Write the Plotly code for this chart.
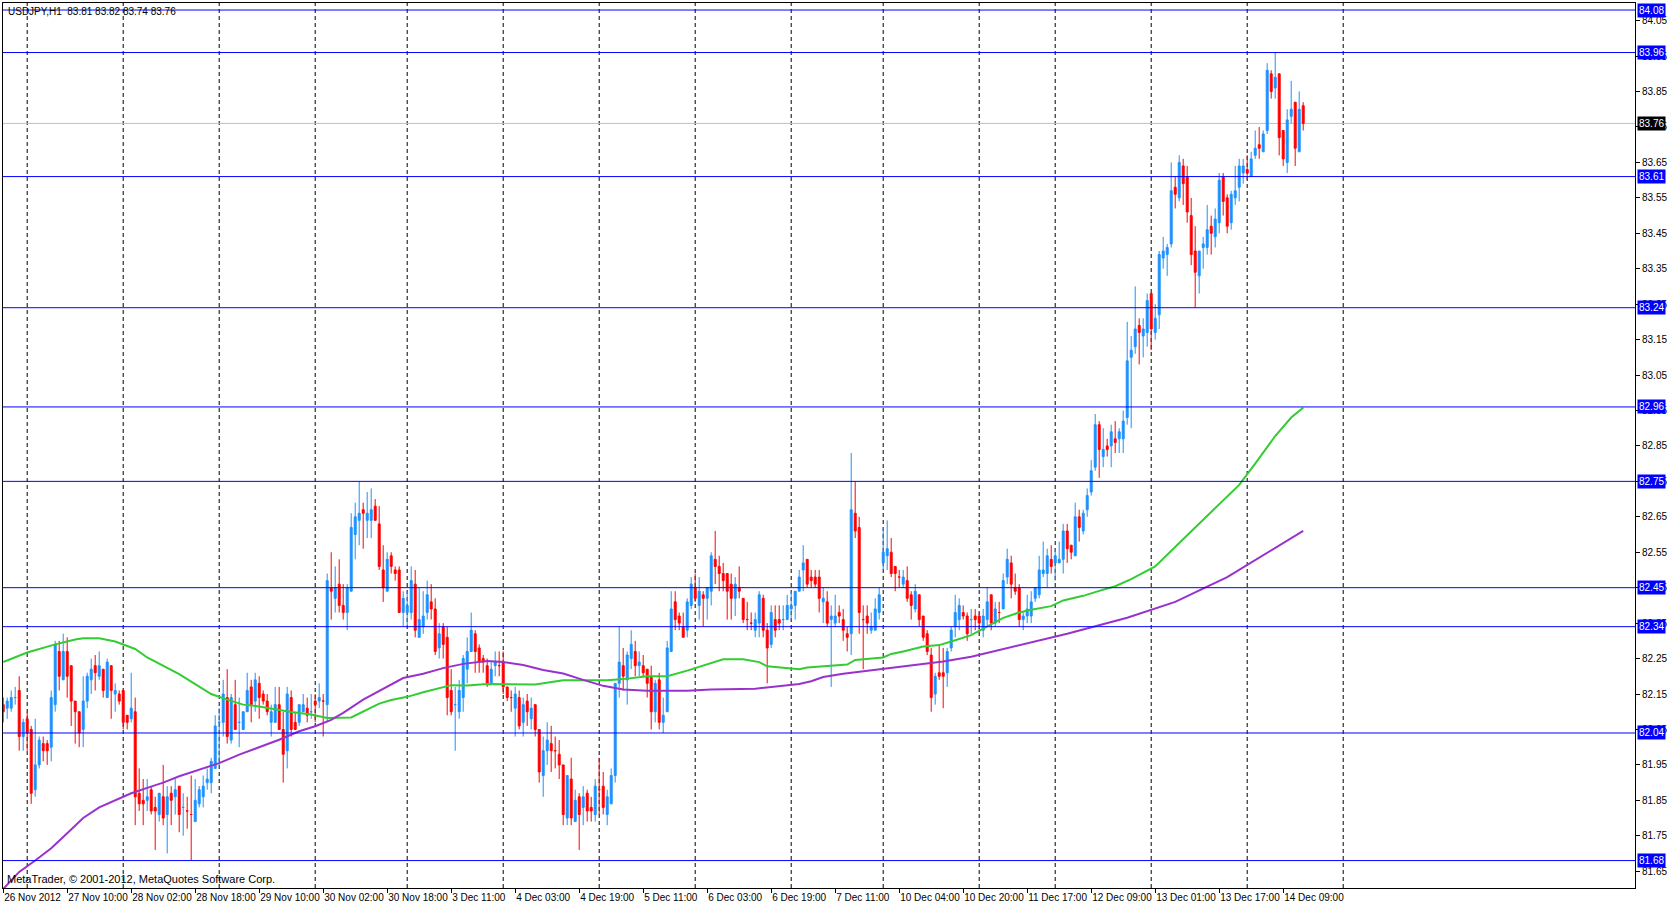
import plotly.graph_objects as go

# USDJPY H1, 26 Nov 2012 18:00 .. 14 Dec 2012 14:00 (326 bars)
opens = [
    82.12, 82.11, 82.11, 82.14, 82.16, 82.03, 82.08, 82.05, 81.88, 81.95,
    82.01, 82.01, 82.00, 82.12, 82.27, 82.19, 82.27, 82.23, 82.13, 82.10,
    82.05, 82.13, 82.19, 82.23, 82.20, 82.22, 82.14, 82.23, 82.15, 82.15,
    82.16, 82.09, 82.08, 82.10, 81.87, 81.85, 81.85, 81.88, 81.83, 81.81,
    81.86, 81.81, 81.87, 81.86, 81.89, 81.83, 81.82, 81.81, 81.79, 81.84,
    81.86, 81.90, 81.90, 81.94, 82.07, 82.07, 82.14, 82.02, 82.12, 82.07,
    82.05, 82.10, 82.17, 82.13, 82.18, 82.15, 82.13, 82.07, 82.07, 82.12,
    82.05, 81.99, 82.14, 82.07, 82.07, 82.10, 82.11, 82.10, 82.13, 82.13,
    82.13, 82.12, 82.45, 82.42, 82.46, 82.40, 82.38, 82.44, 82.60, 82.64,
    82.67, 82.64, 82.64, 82.68, 82.63, 82.50, 82.44, 82.54, 82.50, 82.50,
    82.38, 82.38, 82.38, 82.46, 82.31, 82.34, 82.38, 82.41, 82.39, 82.28,
    82.34, 82.31, 82.16, 82.12, 82.10, 82.14, 82.22, 82.27, 82.32, 82.28,
    82.25, 82.23, 82.18, 82.23, 82.23, 82.24, 82.17, 82.14, 82.11, 82.14,
    82.07, 82.13, 82.08, 82.12, 82.05, 81.92, 81.99, 82.01, 81.99, 81.98,
    81.95, 81.80, 81.91, 81.79, 81.86, 81.83, 81.87, 81.83, 81.81, 81.88,
    81.89, 81.81, 81.84, 81.92, 82.18, 82.23, 82.19, 82.25, 82.27, 82.23,
    82.23, 82.22, 82.20, 82.10, 82.19, 82.07, 82.10, 82.27, 82.41, 82.37,
    82.34, 82.33, 82.40, 82.45, 82.40, 82.43, 82.42, 82.44, 82.53, 82.51,
    82.49, 82.49, 82.46, 82.42, 82.45, 82.42, 82.36, 82.35, 82.33, 82.35,
    82.42, 82.33, 82.29, 82.36, 82.36, 82.36, 82.36, 82.39, 82.40, 82.44,
    82.50, 82.53, 82.48, 82.48, 82.48, 82.41, 82.41, 82.36, 82.35, 82.38,
    82.36, 82.32, 82.32, 82.66, 82.62, 82.36, 82.37, 82.33, 82.33, 82.38,
    82.52, 82.54, 82.55, 82.51, 82.48, 82.46, 82.47, 82.43, 82.39, 82.43,
    82.37, 82.32, 82.26, 82.15, 82.21, 82.21, 82.21, 82.28, 82.34, 82.36,
    82.38, 82.37, 82.36, 82.37, 82.37, 82.33, 82.36, 82.43, 82.35, 82.38,
    82.39, 82.48, 82.52, 82.45, 82.45, 82.36, 82.37, 82.37, 82.42, 82.43,
    82.49, 82.49, 82.53, 82.52, 82.52, 82.53, 82.61, 82.57, 82.54, 82.65,
    82.61, 82.67, 82.72, 82.79, 82.91, 82.82, 82.85, 82.85, 82.87, 82.87,
    82.87, 82.93, 83.10, 83.13, 83.19, 83.16, 83.17, 83.28, 83.17, 83.22,
    83.38, 83.39, 83.42, 83.58, 83.55, 83.64, 83.61, 83.50, 83.40, 83.33,
    83.41, 83.41, 83.47, 83.44, 83.48, 83.61, 83.55, 83.48, 83.55, 83.58,
    83.62, 83.63, 83.61, 83.67, 83.70, 83.68, 83.74, 83.90, 83.86, 83.90,
    83.74, 83.65, 83.78, 83.82, 83.68, 83.81,
]
highs = [
    82.14, 82.14, 82.16, 82.17, 82.20, 82.08, 82.10, 82.06, 82.08, 82.03,
    82.03, 82.02, 82.16, 82.30, 82.30, 82.32, 82.31, 82.23, 82.13, 82.10,
    82.20, 82.21, 82.25, 82.26, 82.27, 82.22, 82.25, 82.23, 82.18, 82.16,
    82.16, 82.09, 82.21, 82.14, 81.94, 81.91, 81.91, 81.89, 81.86, 81.87,
    81.95, 81.89, 81.89, 81.91, 81.89, 81.87, 81.86, 81.92, 81.91, 81.89,
    81.92, 81.94, 81.97, 82.09, 82.11, 82.19, 82.22, 82.15, 82.19, 82.14,
    82.10, 82.21, 82.19, 82.21, 82.20, 82.16, 82.15, 82.12, 82.17, 82.17,
    82.10, 82.17, 82.16, 82.10, 82.12, 82.15, 82.14, 82.15, 82.15, 82.18,
    82.15, 82.49, 82.55, 82.51, 82.53, 82.46, 82.46, 82.66, 82.69, 82.75,
    82.69, 82.72, 82.73, 82.70, 82.68, 82.57, 82.55, 82.55, 82.51, 82.51,
    82.44, 82.44, 82.51, 82.50, 82.45, 82.44, 82.47, 82.46, 82.42, 82.35,
    82.35, 82.34, 82.22, 82.17, 82.19, 82.26, 82.31, 82.38, 82.33, 82.29,
    82.26, 82.25, 82.24, 82.27, 82.27, 82.27, 82.17, 82.16, 82.17, 82.16,
    82.14, 82.15, 82.14, 82.12, 82.05, 82.03, 82.07, 82.06, 82.03, 82.02,
    81.95, 81.92, 81.97, 81.88, 81.87, 81.89, 81.88, 81.86, 81.91, 81.97,
    81.93, 81.88, 81.94, 82.18, 82.34, 82.28, 82.27, 82.33, 82.30, 82.27,
    82.26, 82.22, 82.23, 82.19, 82.21, 82.14, 82.30, 82.44, 82.44, 82.38,
    82.38, 82.42, 82.48, 82.49, 82.48, 82.44, 82.45, 82.55, 82.61, 82.54,
    82.52, 82.49, 82.49, 82.48, 82.51, 82.42, 82.41, 82.38, 82.38, 82.44,
    82.43, 82.35, 82.40, 82.40, 82.40, 82.40, 82.43, 82.44, 82.44, 82.50,
    82.57, 82.53, 82.50, 82.50, 82.50, 82.45, 82.44, 82.40, 82.43, 82.40,
    82.39, 82.34, 82.83, 82.75, 82.65, 82.40, 82.40, 82.38, 82.42, 82.45,
    82.62, 82.64, 82.59, 82.51, 82.50, 82.50, 82.51, 82.44, 82.46, 82.43,
    82.37, 82.33, 82.28, 82.21, 82.29, 82.28, 82.28, 82.34, 82.43, 82.42,
    82.40, 82.38, 82.39, 82.39, 82.38, 82.39, 82.45, 82.43, 82.41, 82.41,
    82.49, 82.56, 82.54, 82.49, 82.46, 82.38, 82.43, 82.44, 82.45, 82.54,
    82.58, 82.56, 82.57, 82.56, 82.58, 82.63, 82.63, 82.57, 82.69, 82.67,
    82.67, 82.73, 82.81, 82.94, 82.92, 82.90, 82.87, 82.91, 82.92, 82.90,
    82.95, 83.20, 83.16, 83.30, 83.21, 83.21, 83.28, 83.28, 83.25, 83.40,
    83.44, 83.42, 83.65, 83.61, 83.67, 83.66, 83.64, 83.55, 83.47, 83.40,
    83.44, 83.53, 83.50, 83.52, 83.62, 83.62, 83.56, 83.57, 83.64, 83.66,
    83.66, 83.67, 83.68, 83.74, 83.75, 83.74, 83.93, 83.91, 83.96, 83.90,
    83.74, 83.80, 83.88, 83.82, 83.85, 83.82,
]
lows = [
    82.07, 82.08, 82.10, 82.12, 81.99, 81.99, 81.99, 81.84, 81.86, 81.94,
    81.96, 81.95, 81.96, 82.10, 82.16, 82.19, 82.14, 82.06, 82.01, 82.00,
    82.00, 82.11, 82.15, 82.16, 82.19, 82.14, 82.14, 82.08, 82.10, 82.12,
    82.05, 82.05, 82.07, 81.78, 81.82, 81.78, 81.82, 81.81, 81.71, 81.79,
    81.78, 81.70, 81.78, 81.81, 81.76, 81.75, 81.77, 81.68, 81.79, 81.83,
    81.83, 81.88, 81.87, 81.94, 81.95, 82.03, 82.01, 82.01, 82.05, 82.00,
    82.05, 82.10, 82.07, 82.10, 82.08, 82.12, 82.09, 82.03, 82.07, 82.05,
    81.90, 81.94, 82.03, 82.05, 82.06, 82.10, 82.07, 82.08, 82.07, 82.11,
    82.03, 82.07, 82.36, 82.38, 82.38, 82.36, 82.33, 82.44, 82.53, 82.57,
    82.56, 82.59, 82.59, 82.64, 82.50, 82.41, 82.44, 82.49, 82.47, 82.38,
    82.34, 82.34, 82.36, 82.31, 82.31, 82.32, 82.36, 82.36, 82.26, 82.25,
    82.25, 82.09, 82.09, 81.99, 82.08, 82.10, 82.18, 82.27, 82.21, 82.21,
    82.21, 82.17, 82.18, 82.20, 82.20, 82.15, 82.13, 82.10, 82.03, 82.05,
    82.03, 82.06, 82.05, 82.03, 81.90, 81.86, 81.95, 81.93, 81.94, 81.91,
    81.78, 81.78, 81.78, 81.79, 81.71, 81.78, 81.79, 81.79, 81.79, 81.81,
    81.81, 81.78, 81.84, 81.90, 82.14, 82.16, 82.12, 82.22, 82.20, 82.20,
    82.20, 82.14, 82.05, 82.07, 82.05, 82.04, 82.10, 82.27, 82.33, 82.33,
    82.31, 82.31, 82.39, 82.41, 82.36, 82.34, 82.36, 82.40, 82.46, 82.44,
    82.44, 82.36, 82.36, 82.37, 82.42, 82.35, 82.33, 82.33, 82.31, 82.31,
    82.31, 82.18, 82.28, 82.31, 82.33, 82.33, 82.36, 82.36, 82.36, 82.44,
    82.44, 82.45, 82.45, 82.45, 82.38, 82.35, 82.34, 82.17, 82.34, 82.35,
    82.30, 82.27, 82.26, 82.59, 82.32, 82.22, 82.32, 82.32, 82.33, 82.36,
    82.50, 82.50, 82.48, 82.44, 82.45, 82.45, 82.41, 82.36, 82.38, 82.34,
    82.30, 82.26, 82.10, 82.12, 82.19, 82.11, 82.17, 82.27, 82.31, 82.33,
    82.36, 82.30, 82.32, 82.33, 82.32, 82.31, 82.34, 82.33, 82.34, 82.35,
    82.39, 82.46, 82.42, 82.43, 82.34, 82.33, 82.35, 82.35, 82.41, 82.42,
    82.48, 82.45, 82.49, 82.47, 82.52, 82.49, 82.52, 82.53, 82.54, 82.58,
    82.60, 82.65, 82.71, 82.78, 82.76, 82.79, 82.82, 82.79, 82.83, 82.83,
    82.83, 82.91, 82.90, 83.11, 83.08, 83.10, 83.13, 83.12, 83.15, 83.18,
    83.35, 83.33, 83.41, 83.52, 83.54, 83.53, 83.48, 83.36, 83.24, 83.28,
    83.35, 83.39, 83.39, 83.41, 83.45, 83.50, 83.45, 83.46, 83.53, 83.54,
    83.59, 83.60, 83.61, 83.66, 83.66, 83.68, 83.73, 83.83, 83.83, 83.67,
    83.64, 83.62, 83.76, 83.64, 83.68, 83.74,
]
closes = [
    82.10, 82.13, 82.14, 82.14, 82.03, 82.07, 82.04, 81.87, 81.95, 82.02,
    81.99, 81.99, 82.14, 82.29, 82.20, 82.27, 82.20, 82.13, 82.10, 82.04,
    82.13, 82.20, 82.22, 82.21, 82.23, 82.16, 82.24, 82.16, 82.16, 82.13,
    82.07, 82.07, 82.11, 81.86, 81.84, 81.84, 81.86, 81.82, 81.82, 81.87,
    81.80, 81.86, 81.85, 81.88, 81.81, 81.83, 81.82, 81.81, 81.85, 81.88,
    81.89, 81.91, 81.96, 82.06, 82.07, 82.15, 82.03, 82.14, 82.05, 82.07,
    82.10, 82.16, 82.12, 82.19, 82.14, 82.13, 82.10, 82.10, 82.12, 82.05,
    81.98, 82.15, 82.05, 82.05, 82.12, 82.12, 82.09, 82.10, 82.12, 82.14,
    82.13, 82.47, 82.44, 82.45, 82.40, 82.38, 82.45, 82.62, 82.65, 82.66,
    82.66, 82.66, 82.67, 82.64, 82.51, 82.45, 82.53, 82.51, 82.49, 82.38,
    82.42, 82.40, 82.47, 82.33, 82.36, 82.37, 82.43, 82.39, 82.27, 82.32,
    82.29, 82.14, 82.10, 82.12, 82.16, 82.25, 82.27, 82.33, 82.27, 82.24,
    82.24, 82.18, 82.22, 82.24, 82.23, 82.17, 82.14, 82.14, 82.15, 82.06,
    82.12, 82.10, 82.11, 82.05, 81.93, 81.99, 82.02, 81.99, 81.99, 81.95,
    81.81, 81.92, 81.80, 81.85, 81.81, 81.86, 81.82, 81.82, 81.89, 81.88,
    81.83, 81.86, 81.92, 82.18, 82.24, 82.20, 82.26, 82.29, 82.23, 82.24,
    82.21, 82.18, 82.10, 82.18, 82.07, 82.09, 82.28, 82.39, 82.36, 82.35,
    82.31, 82.41, 82.46, 82.42, 82.44, 82.42, 82.45, 82.54, 82.51, 82.49,
    82.47, 82.44, 82.42, 82.46, 82.44, 82.36, 82.36, 82.35, 82.36, 82.43,
    82.33, 82.28, 82.38, 82.33, 82.35, 82.36, 82.40, 82.40, 82.44, 82.48,
    82.52, 82.46, 82.47, 82.46, 82.42, 82.42, 82.35, 82.37, 82.37, 82.37,
    82.33, 82.31, 82.67, 82.61, 82.38, 82.36, 82.35, 82.34, 82.39, 82.43,
    82.55, 82.56, 82.49, 82.49, 82.48, 82.48, 82.42, 82.40, 82.44, 82.36,
    82.31, 82.27, 82.14, 82.20, 82.20, 82.20, 82.27, 82.33, 82.38, 82.40,
    82.37, 82.32, 82.36, 82.36, 82.35, 82.37, 82.41, 82.35, 82.39, 82.38,
    82.47, 82.53, 82.46, 82.44, 82.36, 82.37, 82.39, 82.41, 82.45, 82.50,
    82.50, 82.54, 82.51, 82.54, 82.53, 82.61, 82.56, 82.55, 82.65, 82.62,
    82.66, 82.71, 82.78, 82.91, 82.84, 82.84, 82.84, 82.89, 82.86, 82.89,
    82.92, 83.09, 83.12, 83.18, 83.17, 83.18, 83.26, 83.18, 83.21, 83.39,
    83.40, 83.41, 83.57, 83.56, 83.65, 83.59, 83.51, 83.39, 83.34, 83.40,
    83.42, 83.46, 83.45, 83.49, 83.60, 83.54, 83.47, 83.56, 83.57, 83.64,
    83.64, 83.62, 83.66, 83.69, 83.69, 83.73, 83.91, 83.85, 83.89, 83.72,
    83.66, 83.77, 83.80, 83.69, 83.80, 83.76,
]

# bar positions of the time labels and their text (every 16 bars)
label_bars = [0, 16, 32, 48, 64, 80, 96, 112, 128, 144, 160, 176, 192, 208,
              224, 240, 256, 272, 288, 304, 320]
time_labels = ["26 Nov 2012", "27 Nov 10:00", "28 Nov 02:00", "28 Nov 18:00",
               "29 Nov 10:00", "30 Nov 02:00", "30 Nov 18:00", "3 Dec 11:00",
               "4 Dec 03:00", "4 Dec 19:00", "5 Dec 11:00", "6 Dec 03:00",
               "6 Dec 19:00", "7 Dec 11:00", "10 Dec 04:00", "10 Dec 20:00",
               "11 Dec 17:00", "12 Dec 09:00", "13 Dec 01:00", "13 Dec 17:00",
               "14 Dec 09:00"]
# bars that open a new day (period separators)
day_start_bars = [6, 30, 54, 78, 101, 125, 149, 173, 197, 220, 244, 263, 287,
                  311, 335]

# moving averages, sampled along the curves
ma_fast_bars = [0, 6, 13, 18, 20, 24, 28, 30, 33, 36, 40, 44, 48, 52, 56, 60,
                64, 68, 72, 77, 81, 87, 90, 94, 97, 101, 105, 109, 112, 116,
                121, 133, 137, 140, 151, 155, 161, 166, 171, 175, 180, 185,
                189, 191, 195, 199, 201, 211, 213, 220, 222, 225, 230, 234,
                237, 242, 250, 254, 257, 262, 265, 270, 274, 278, 282, 288,
                298, 309, 313, 318, 322, 325]
ma_fast = [82.24, 82.267, 82.29, 82.304, 82.307, 82.307, 82.298, 82.29,
           82.277, 82.253, 82.23, 82.206, 82.178, 82.15, 82.134, 82.12,
           82.115, 82.106, 82.099, 82.092, 82.082, 82.084, 82.10, 82.123,
           82.133, 82.142, 82.155, 82.167, 82.175, 82.174, 82.178, 82.177,
           82.185, 82.189, 82.189, 82.192, 82.20, 82.20, 82.216, 82.231,
           82.248, 82.248, 82.24, 82.228, 82.223, 82.22, 82.225, 82.233,
           82.246, 82.253, 82.263, 82.27, 82.284, 82.288, 82.298, 82.316,
           82.365, 82.38, 82.388, 82.398, 82.414, 82.427, 82.441, 82.454,
           82.474, 82.51, 82.62, 82.74, 82.80, 82.878, 82.93, 82.958]
ma_slow_bars = [0, 4, 8, 12, 16, 20, 24, 28, 32, 36, 40, 44, 49, 54, 59, 64,
                69, 74, 78, 82, 85, 90, 95, 100, 105, 110, 115, 121, 125, 130,
                135, 140, 145, 150, 155, 161, 171, 177, 188, 192, 195, 199,
                202, 205, 210, 215, 220, 225, 230, 235, 242, 253, 266, 281,
                293, 306, 317, 325]
ma_slow = [81.60, 81.648, 81.68, 81.715, 81.757, 81.80, 81.83, 81.85, 81.87,
           81.885, 81.90, 81.918, 81.936, 81.955, 81.979, 82.00, 82.021,
           82.045, 82.059, 82.077, 82.097, 82.134, 82.165, 82.195, 82.207,
           82.223, 82.235, 82.243, 82.24, 82.232, 82.218, 82.208, 82.19,
           82.173, 82.163, 82.159, 82.159, 82.163, 82.165, 82.17, 82.174,
           82.178, 82.186, 82.198, 82.207, 82.214, 82.22, 82.228, 82.235,
           82.242, 82.255, 82.285, 82.32, 82.365, 82.41, 82.48, 82.555, 82.61]

levels = [84.08, 83.96, 83.61, 83.24, 82.96, 82.75, 82.45, 82.34, 82.04, 81.68]
bid = 83.76
title_text = "USDJPY,H1\u00a0\u00a083.81 83.82 83.74 83.76"

FONT = "Liberation Sans, Arial, sans-serif"
UP = "#1E90FF"
DOWN = "#FF0000"

bars = list(range(len(opens)))

fig = go.Figure()

fig.add_trace(go.Candlestick(
    x=bars, open=opens, high=highs, low=lows, close=closes,
    increasing=dict(line=dict(color=UP, width=1), fillcolor=UP),
    decreasing=dict(line=dict(color=DOWN, width=1), fillcolor=DOWN),
    whiskerwidth=0, showlegend=False, hoverinfo="skip",
))
fig.add_trace(go.Scatter(x=ma_fast_bars, y=ma_fast, mode="lines",
                         line=dict(color="#32CD32", width=2),
                         showlegend=False, hoverinfo="skip"))
fig.add_trace(go.Scatter(x=ma_slow_bars, y=ma_slow, mode="lines",
                         line=dict(color="#9932CC", width=2),
                         showlegend=False, hoverinfo="skip"))

shapes = []
for b in day_start_bars:
    shapes.append(dict(type="line", xref="x", yref="paper", x0=b, x1=b,
                       y0=0, y1=1, layer="below",
                       line=dict(color="black", width=1, dash="4px,3px")))
shapes.append(dict(type="line", xref="paper", yref="y", x0=0, x1=1,
                   y0=bid, y1=bid, layer="below",
                   line=dict(color="#C0C0C0", width=1)))
for lv in levels:
    shapes.append(dict(type="line", xref="paper", yref="y", x0=0, x1=1,
                       y0=lv, y1=lv, layer="above",
                       line=dict(color="#0000FF", width=1)))

annotations = []
for lv in levels:
    annotations.append(dict(x=1, xref="paper", y=lv, yref="y",
                            xanchor="left", yanchor="middle", xshift=2,
                            text=f"{lv:.2f}", showarrow=False,
                            bgcolor="#0000FF", borderpad=1,
                            font=dict(family=FONT, size=10, color="white")))
annotations.append(dict(x=1, xref="paper", y=bid, yref="y",
                        xanchor="left", yanchor="middle", xshift=2,
                        text=f"{bid:.2f}", showarrow=False,
                        bgcolor="black", borderpad=1,
                        font=dict(family=FONT, size=10, color="white")))
annotations.append(dict(x=0, xref="paper", y=1, yref="paper",
                        xanchor="left", yanchor="top", xshift=3, yshift=-1,
                        text=title_text, showarrow=False,
                        font=dict(family=FONT, size=10, color="black")))
annotations.append(dict(x=0, xref="paper", y=0, yref="paper",
                        xanchor="left", yanchor="bottom", xshift=2, yshift=1,
                        text="MetaTrader, \u00a9 2001-2012, MetaQuotes Software Corp.",
                        showarrow=False,
                        font=dict(family=FONT, size=11, color="black")))

fig.update_layout(
    width=1674, height=906,
    margin=dict(l=3, r=39, t=3, b=18, autoexpand=False),
    paper_bgcolor="white", plot_bgcolor="white",
    font=dict(family=FONT, size=10, color="black"),
    hovermode=False,
    shapes=shapes, annotations=annotations,
    xaxis=dict(range=[-0.05, 407.95], rangeslider=dict(visible=False),
               tickmode="array", tickvals=label_bars, ticktext=time_labels,
               tickangle=0, automargin=False,
               ticks="outside", ticklen=4, tickcolor="black",
               ticklabelposition="outside right",
               showgrid=False, zeroline=False, showline=True, mirror=True,
               linecolor="black", linewidth=1, fixedrange=True),
    yaxis=dict(range=[81.6026, 84.0998], side="right", tick0=81.65, dtick=0.1,
               tickformat=".2f", automargin=False,
               ticks="outside", ticklen=4, tickcolor="black",
               showgrid=False, zeroline=False, showline=True, mirror=True,
               linecolor="black", linewidth=1, fixedrange=True),
)

# the page's default body margin would push the figure off the window
fig.write_html("out.html", config={"displayModeBar": False},
               post_script="document.body.style.margin='0';"
                           "document.body.style.overflow='hidden';")
